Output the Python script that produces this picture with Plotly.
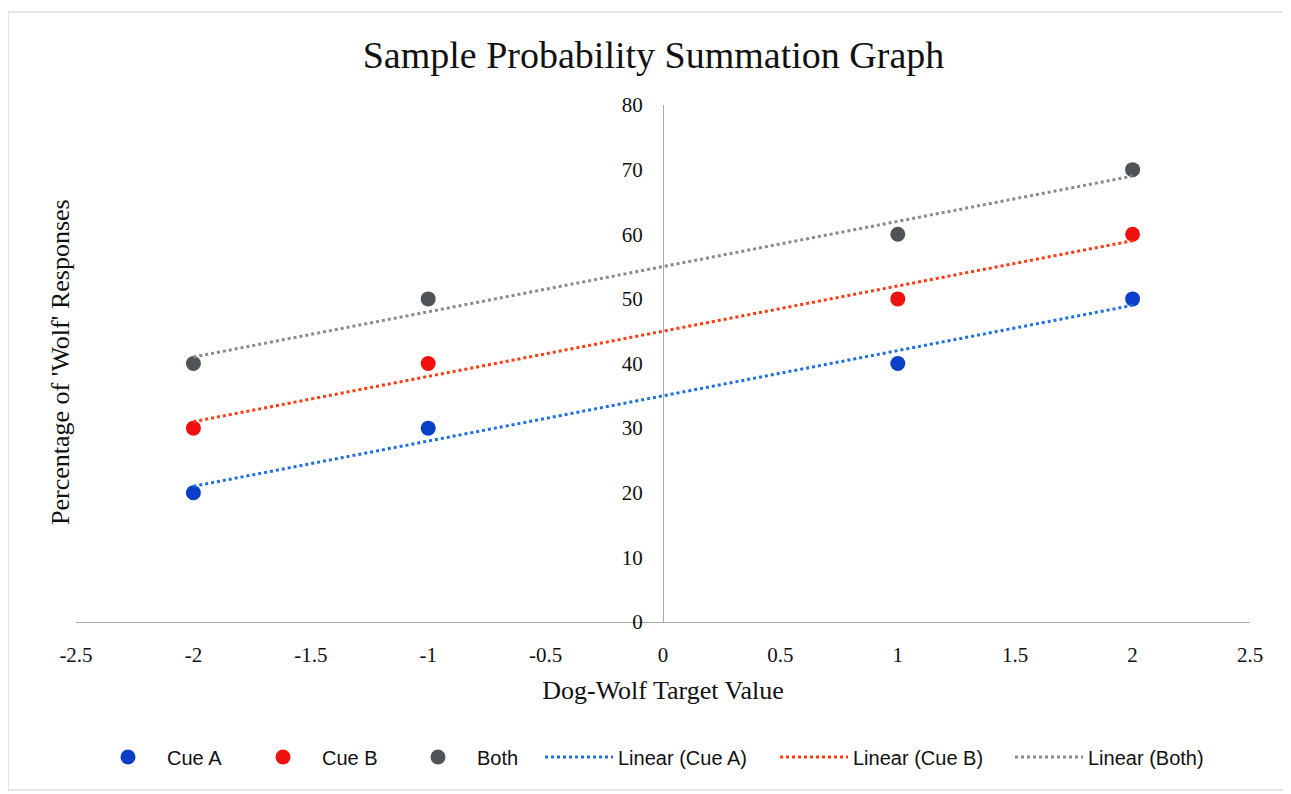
import numpy as np
import plotly.graph_objects as go

x_vals = [-2, -1, 1, 2]
cue_a = [20, 30, 40, 50]
cue_b = [30, 40, 50, 60]
both = [40, 50, 60, 70]

x_tickvals = [-2.5, -2, -1.5, -1, -0.5, 0, 0.5, 1, 1.5, 2, 2.5]
x_ticktext = ["-2.5", "-2", "-1.5", "-1", "-0.5", "0", "0.5", "1", "1.5", "2", "2.5"]

series = [
    ("Cue A", cue_a, "#0a3fc8", "#1f6fe0"),
    ("Cue B", cue_b, "#f01010", "#ff3a10"),
    ("Both", both, "#4f5459", "#8a8a8a"),
]

fig = go.Figure()
for name, ys, mcol, _ in series:
    fig.add_trace(go.Scatter(x=x_vals, y=ys, mode="markers", name=name, legend="legend",
                             marker=dict(size=15, color=mcol)))
for name, ys, _, lcol in series:
    slope, intercept = np.polyfit(x_vals, ys, 1)
    xs = np.array([min(x_vals), max(x_vals)])
    fig.add_trace(go.Scatter(x=xs, y=slope * xs + intercept, mode="lines",
                             name=f"Linear ({name})", legend="legend2",
                             line=dict(color=lcol, width=3, dash="dot")))

serif = "Liberation Serif, Times New Roman, serif"
sans = "Liberation Sans, Arial, sans-serif"
PL, PT, PW, PH = 76, 105, 1174, 517  # page-pixel plot box (for paper fractions)

fig.update_layout(
    width=1291, height=794,
    paper_bgcolor="white", plot_bgcolor="white",
    margin=dict(l=68, r=49, t=97, b=180),
    title=dict(text="Sample Probability Summation Graph", x=0.5, xanchor="center",
               y=1 - (55 - 8) / 794, yanchor="middle",
               font=dict(family=serif, size=38, color="#111")),
    xaxis=dict(range=[-2.5, 2.5], tickvals=x_tickvals, ticktext=x_ticktext,
               showgrid=False, zeroline=False,
               showline=True, linecolor="#aaaaaa", linewidth=1, ticks="",
               ticklabelstandoff=14,
               tickfont=dict(family=serif, size=21, color="#111"),
               title=dict(text="Dog-Wolf Target Value", standoff=14,
                          font=dict(family=serif, size=26, color="#111"))),
    yaxis=dict(range=[0, 80], dtick=10, showgrid=False, zeroline=False,
               anchor="free", position=0.5,
               showline=True, linecolor="#aaaaaa", linewidth=1, ticks="",
               ticklabelstandoff=16,
               tickfont=dict(family=serif, size=21, color="#111")),
    legend=dict(orientation="h", x=(89 - PL) / PW, xanchor="left",
                y=(PT + PH - 757) / PH, yanchor="middle",
                font=dict(family=sans, size=20, color="#111"),
                itemwidth=68, entrywidth=72, bgcolor="rgba(0,0,0,0)"),
    legend2=dict(orientation="h", x=(540 - PL) / PW, xanchor="left",
                 y=(PT + PH - 757) / PH, yanchor="middle",
                 font=dict(family=sans, size=20, color="#111"),
                 itemwidth=68, entrywidth=152, bgcolor="rgba(0,0,0,0)"),
    shapes=[dict(type="rect", xref="paper", yref="paper",
                 x0=(8 - PL) / PW, x1=(1288 - PL) / PW,
                 y0=(PT + PH - 790) / PH, y1=(PT + PH - 12) / PH,
                 line=dict(color="#cccccc", width=1))],
    annotations=[dict(text="Percentage of 'Wolf' Responses", xref="paper", yref="paper",
                      x=(60 - PL) / PW, y=(PT + PH - 362) / PH, textangle=-90,
                      showarrow=False, xanchor="center", yanchor="middle",
                      font=dict(family=serif, size=26, color="#111"))],
)

fig.write_html("out.html")
